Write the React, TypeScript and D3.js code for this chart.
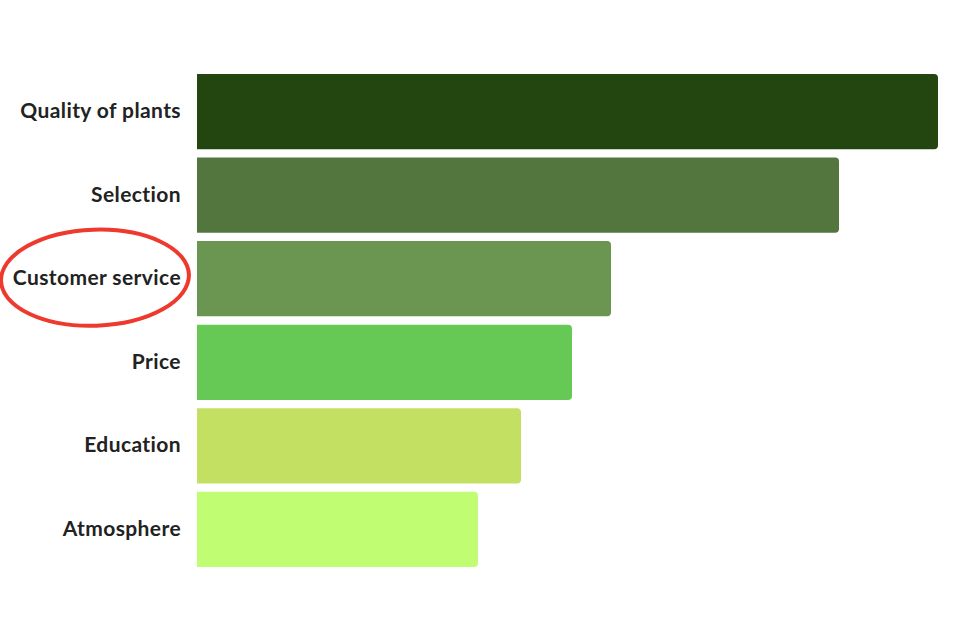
import React from 'react';
import * as d3 from 'd3';

const WIDTH = 960;
const HEIGHT = 640;

const categories = ['Quality of plants', 'Selection', 'Customer service', 'Price', 'Education', 'Atmosphere'];
const values = [74.1, 64.2, 41.4, 37.5, 32.4, 28.1];
const colors = ['#234611', '#53763f', '#6a9651', '#67c955', '#c4e063', '#c0fd73'];
const highlighted = 'Customer service';

const margin = {top: 74, right: 22, bottom: 73, left: 197};
const RADIUS = 4;

// bar with square left edge and rounded right corners
const barPath = (x0: number, y0: number, w: number, h: number, r: number) => {
    const x1 = x0 + w;
    const y1 = y0 + h;
    return `M${x0},${y0}H${x1 - r}Q${x1},${y0} ${x1},${y0 + r}V${y1 - r}Q${x1},${y1} ${x1 - r},${y1}H${x0}Z`;
};

const App = () => {
    const xScale = d3.scaleLinear()
        .domain([0, d3.max(values) || 0])
        .range([margin.left, WIDTH - margin.right]);

    const yScale = d3.scaleBand<string>()
        .domain(categories)
        .range([margin.top, HEIGHT - margin.bottom])
        .paddingInner(0.1)
        .paddingOuter(0);

    const bw = yScale.bandwidth();

    return (
        <svg width={WIDTH} height={HEIGHT}
             style={{position: 'absolute', top: 0, left: 0, background: '#fff'}}>
            {categories.map((c, i) => {
                const y = yScale(c) ?? 0;
                return (
                    <g key={c}>
                        <path d={barPath(xScale(0), y, xScale(values[i]) - xScale(0), bw, RADIUS)}
                              fill={colors[i]}/>
                        <text x={xScale(0) - 16} y={y + bw / 2 - 1} dy="0.35em"
                              textAnchor="end"
                              fontFamily="Lato, 'Noto Sans', sans-serif"
                              fontWeight={700} fontSize={21} letterSpacing={0.4} fill="#222">
                            {c}
                        </text>
                    </g>
                );
            })}
            {(() => {
                const y = (yScale(highlighted) ?? 0) + bw / 2;
                return (
                    <ellipse cx={95} cy={y - 1} rx={94} ry={48}
                             fill="none" stroke="#ee3a2e" strokeWidth={4}
                             transform={`rotate(-2 95 ${y})`}/>
                );
            })()}
        </svg>
    );
};

export default App;
